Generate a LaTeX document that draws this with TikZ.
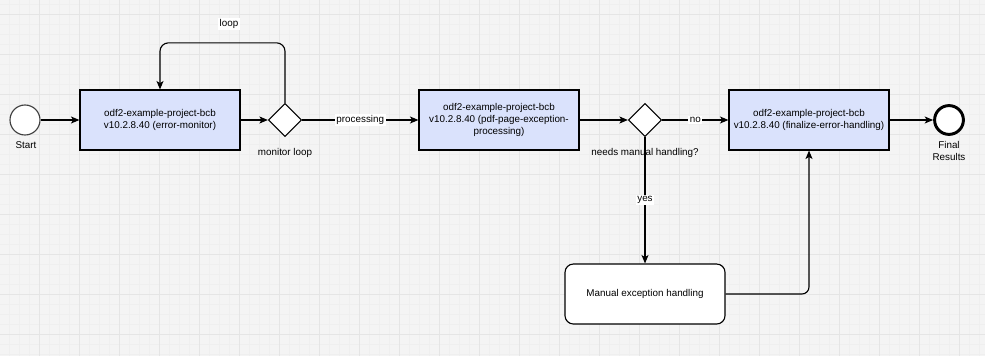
\documentclass[tikz,border=0pt]{standalone}
\usepackage{fontspec}
\setmainfont{Liberation Sans}
\usetikzlibrary{arrows.meta,positioning,shapes.geometric}
\definecolor{GridBack}{RGB}{244,244,244}
\definecolor{GridMinor}{RGB}{239,239,239}
\definecolor{GridMajor}{RGB}{229,229,229}
\definecolor{SoftBlue}{RGB}{218,226,252}
\tikzset{
  process/.style={draw,fill=SoftBlue,line width=0.8pt,minimum width=4cm,
    minimum height=1.5cm,inner sep=0pt,align=center},
  manual/.style={draw,fill=white,rounded corners=6pt,line width=0.8pt,
    minimum width=4cm,minimum height=1.5cm,inner sep=0pt,align=center},
  gate/.style={draw,diamond,fill=white,line width=0.8pt,minimum width=0.83cm,
    minimum height=0.83cm,inner sep=0pt},
  startev/.style={draw=black!75,circle,fill=white,line width=0.8pt,
    minimum size=0.75cm,inner sep=0pt},
  endev/.style={draw,circle,fill=white,line width=2.1pt,minimum size=0.72cm,
    inner sep=0pt},
  caption/.style={inner sep=1pt,align=center},
  lbl/.style={fill=white,inner sep=1pt},
  arrow/.style={-{Stealth[length=6pt,width=5pt,inset=1.5pt]},line width=0.8pt}
}

\begin{document}
\begin{tikzpicture}[x=0.025cm,y=-0.025cm,font=\fontsize{7}{8.8}\selectfont]
      \useasboundingbox (0,0) rectangle (985,356);
      % grid
      \fill[GridBack] (0,0) rectangle (985,356);
      \foreach \x in {0,10,...,980}{
        \draw[GridMinor,line width=0.5pt] (\x-0.5,0) -- (\x-0.5,356);
      }
      \foreach \y in {0,10,...,350}{
        \draw[GridMinor,line width=0.5pt] (0,\y+4.5) -- (985,\y+4.5);
      }
      \foreach \x in {0,40,...,960}{
        \draw[GridMajor,line width=0.7pt] (\x+39.5,0) -- (\x+39.5,356);
      }
      \foreach \y in {0,40,...,320}{
        \draw[GridMajor,line width=0.7pt] (0,\y+14.5) -- (985,\y+14.5);
      }
      % nodes
      \node[startev] (start) at (25,120) {};
      \node[caption] (startlbl) at (26,145) {Start};
      \node[process] (monitor) at (160,120) {odf2-example-project-bcb\\v10.2.8.40 (error-monitor)};
      \node[gate] (loopgate) at (285,120) {};
      \node[caption] (loopgatelbl) at (285,153) {monitor loop};
      \node[lbl] (looplbl) at (229,24) {loop};
      \node[process] (pageproc) at (499,120) {odf2-example-project-bcb\\v10.2.8.40 (pdf-page-exception-\\processing)};
      \node[gate] (manualgate) at (645,120) {};
      \node[caption] (manualgatelbl) at (645,153) {needs manual handling?};
      \node[process] (finalize) at (809,120) {odf2-example-project-bcb\\v10.2.8.40 (finalize-error-handling)};
      \node[endev] (final) at (949,120) {};
      \node[caption] (finallbl) at (949,151) {Final\\Results};
      \node[manual] (manualtask) at (645,294) {Manual exception handling};
      % connectors
      \draw[arrow] (start) -- (monitor);
      \draw[arrow] (monitor) -- (loopgate);
      \draw[arrow,rounded corners=6pt] (loopgate.north) -- ++(0,-60) -| (monitor.north);
      \draw[arrow] (loopgate) -- node[lbl]{processing} (pageproc);
      \draw[arrow] (pageproc) -- (manualgate);
      \draw[arrow] (manualgate) -- node[lbl]{no} (finalize);
      \draw[arrow] (manualgate) -- node[lbl]{yes} (manualtask);
      \draw[arrow,rounded corners=5pt] (manualtask.east) -| (finalize.south);
      \draw[arrow] (finalize) -- (final);
    \end{tikzpicture}
\end{document}
